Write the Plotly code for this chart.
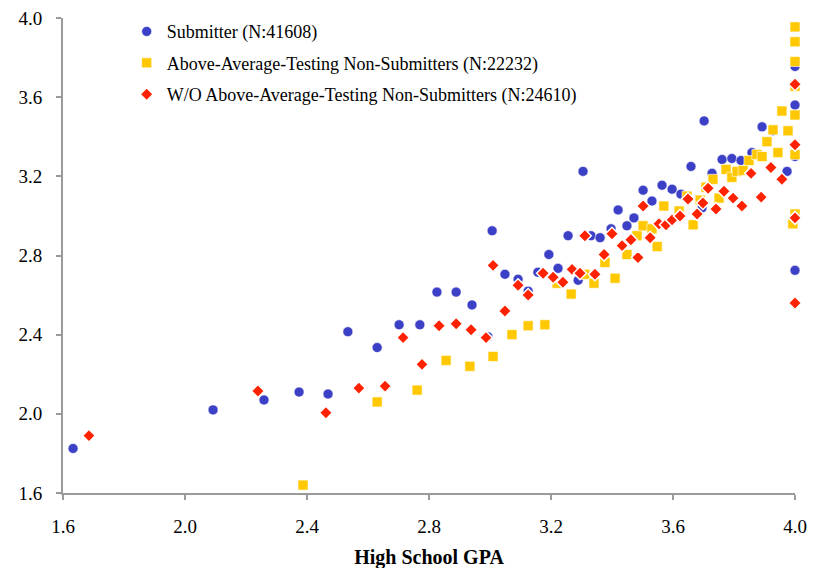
import plotly.graph_objects as go

# Submitter (N:41608)
sub_x = [1.633, 2.092, 2.259, 2.374, 2.469, 2.534, 2.630, 2.702, 2.770, 2.826,
         2.889, 2.941, 2.993, 3.007, 3.049, 3.092, 3.125, 3.157, 3.193, 3.223,
         3.256, 3.289, 3.305, 3.331, 3.361, 3.397, 3.420, 3.449, 3.472, 3.502,
         3.531, 3.564, 3.597, 3.626, 3.659, 3.695, 3.702, 3.728, 3.761, 3.793,
         3.823, 3.859, 3.892, 3.928, 3.974, 4.0, 4.0, 4.0, 4.0]
sub_y = [1.825, 2.02, 2.07, 2.11, 2.10, 2.415, 2.335, 2.45, 2.45, 2.615,
         2.615, 2.55, 2.39, 2.925, 2.705, 2.68, 2.62, 2.715, 2.805, 2.735,
         2.90, 2.675, 3.225, 2.90, 2.89, 2.935, 3.03, 2.95, 2.99, 3.13,
         3.075, 3.155, 3.135, 3.11, 3.25, 3.04, 3.48, 3.215, 3.285, 3.29,
         3.28, 3.32, 3.45, 3.43, 3.225, 3.30, 3.56, 3.755, 2.725]

# Above-Average-Testing Non-Submitters (N:22232)
aat_x = [2.387, 2.630, 2.761, 2.856, 2.934, 3.010, 3.072, 3.125, 3.180, 3.220,
         3.266, 3.311, 3.341, 3.377, 3.410, 3.449, 3.482, 3.502, 3.531, 3.548,
         3.570, 3.620, 3.646, 3.666, 3.689, 3.708, 3.731, 3.751, 3.774, 3.793,
         3.810, 3.830, 3.849, 3.875, 3.892, 3.908, 3.928, 3.944, 3.957, 3.977,
         4.0, 4.0, 4.0, 4.0, 4.0, 4.0, 4.0, 3.993]
aat_y = [1.64, 2.06, 2.12, 2.27, 2.24, 2.29, 2.40, 2.445, 2.45, 2.66,
         2.605, 2.705, 2.66, 2.765, 2.685, 2.805, 2.90, 2.95, 2.935, 2.845,
         3.05, 3.025, 3.10, 2.955, 3.08, 3.145, 3.185, 3.09, 3.235, 3.195,
         3.225, 3.23, 3.28, 3.31, 3.30, 3.375, 3.435, 3.32, 3.53, 3.43,
         3.955, 3.88, 3.78, 3.655, 3.51, 3.31, 3.01, 2.96]

# W/O Above-Average-Testing Non-Submitters (N:24610)
wo_x = [1.685, 2.239, 2.462, 2.570, 2.656, 2.715, 2.777, 2.833, 2.889, 2.938,
        2.987, 3.010, 3.049, 3.092, 3.125, 3.174, 3.207, 3.239, 3.269, 3.295,
        3.311, 3.344, 3.374, 3.400, 3.433, 3.462, 3.485, 3.502, 3.525, 3.554,
        3.577, 3.597, 3.623, 3.649, 3.679, 3.698, 3.715, 3.741, 3.767, 3.797,
        3.826, 3.856, 3.889, 3.921, 3.957, 4.0, 4.0, 4.0, 4.0]
wo_y = [1.89, 2.115, 2.005, 2.13, 2.14, 2.385, 2.25, 2.445, 2.455, 2.425,
        2.385, 2.75, 2.52, 2.65, 2.60, 2.71, 2.69, 2.665, 2.73, 2.71,
        2.90, 2.705, 2.805, 2.91, 2.85, 2.88, 2.79, 3.05, 2.89, 2.96,
        2.955, 2.98, 3.00, 3.085, 3.01, 3.065, 3.14, 3.035, 3.125, 3.09,
        3.05, 3.215, 3.095, 3.245, 3.185, 3.665, 3.36, 2.99, 2.56]

tick_vals = [1.6, 2.0, 2.4, 2.8, 3.2, 3.6, 4.0]
tick_text = ["1.6", "2.0", "2.4", "2.8", "3.2", "3.6", "4.0"]

FONT = "Liberation Serif"

fig = go.Figure()
fig.add_trace(go.Scatter(
    x=sub_x, y=sub_y, mode="markers", name="Submitter (N:41608)",
    legendgroup="a", cliponaxis=False,
    marker=dict(symbol="circle", size=10, color="#3c40c6",
                line=dict(color="rgba(255,255,255,0.6)", width=1))))
fig.add_trace(go.Scatter(
    x=aat_x, y=aat_y, mode="markers",
    name="Above-Average-Testing Non-Submitters (N:22232)",
    legendgroup="b", cliponaxis=False,
    marker=dict(symbol="square", size=10, color="#ffc800",
                line=dict(color="rgba(255,255,255,0.6)", width=1))))
fig.add_trace(go.Scatter(
    x=wo_x, y=wo_y, mode="markers",
    name="W/O Above-Average-Testing Non-Submitters (N:24610)",
    legendgroup="c", cliponaxis=False,
    marker=dict(symbol="diamond", size=10, color="#ff2200",
                line=dict(color="white", width=1.5))))

axis_common = dict(
    range=[1.6, 4.0], tickvals=tick_vals, ticktext=tick_text,
    showgrid=False, zeroline=False, showline=True, linecolor="#9a9a9a",
    linewidth=2, ticks="outside", ticklen=5, tickwidth=2, tickcolor="#9a9a9a",
    tickfont=dict(family=FONT, size=19, color="black"), fixedrange=True,
    automargin=False, ticklabeloverflow="allow",
)

# page body has an 8px default margin; plot area placed to match reference
fig.update_layout(
    width=825, height=568,
    margin=dict(l=55, r=38, t=5, b=83),
    paper_bgcolor="white", plot_bgcolor="white",
    xaxis=dict(**axis_common, ticklabelstandoff=10,
               title=dict(text="<b>High School GPA</b>", standoff=14,
                          font=dict(family=FONT, size=20, color="black"))),
    yaxis=dict(**axis_common, ticklabelstandoff=10),
    showlegend=True,
    legend=dict(x=0.087, y=1.01, xanchor="left", yanchor="top",
                font=dict(family=FONT, size=18, color="black"),
                bgcolor="rgba(0,0,0,0)", traceorder="grouped",
                tracegroupgap=5, itemsizing="trace"),
    hovermode=False,
)

fig.write_html("out.html")
